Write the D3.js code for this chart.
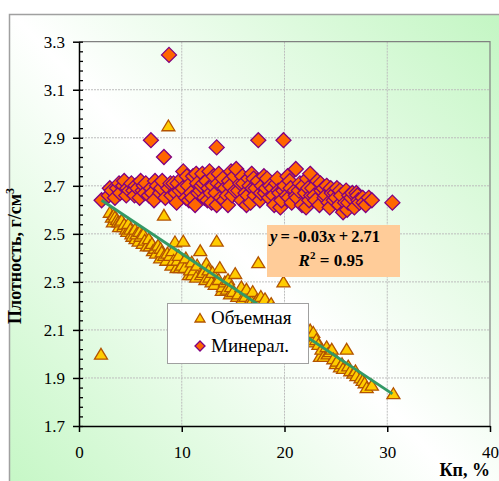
<!DOCTYPE html>
<html>
<head>
<meta charset="utf-8">
<script src="https://cdn.jsdelivr.net/npm/d3@7"></script>
<style>
  body { margin: 0; background: #fff; }
</style>
</head>
<body>
<svg id="chart" width="499" height="481"></svg>
<script>
// Объемная (triangles), [Кп, плотность]
var volPoints = [
  [2.14, 1.999], [3.0, 2.59], [3.2, 2.57], [3.3, 2.55], [3.4, 2.58], [3.5, 2.57], [3.7, 2.56], [3.8, 2.55],
  [3.9, 2.53], [4.0, 2.55], [4.15, 2.557], [4.3, 2.53], [4.4, 2.54], [4.6, 2.52], [4.7, 2.51], [4.8, 2.543],
  [5.0, 2.52], [5.1, 2.50], [5.2, 2.49], [5.45, 2.52], [5.5, 2.48], [5.6, 2.50], [5.8, 2.47], [5.9, 2.51],
  [6.0, 2.49], [6.2, 2.46], [6.26, 2.50], [6.4, 2.474], [6.6, 2.45], [6.8, 2.48], [6.9, 2.45], [7.1, 2.46],
  [7.2, 2.43], [7.4, 2.44], [7.5, 2.42], [7.7, 2.453], [7.9, 2.40], [7.95, 2.44], [8.05, 2.425], [8.27, 2.578],
  [8.3, 2.41], [8.5, 2.39], [8.6, 2.42], [8.7, 2.95], [8.86, 2.41], [9.0, 2.37], [9.1, 2.43], [9.2, 2.39],
  [9.34, 2.467], [9.5, 2.36], [9.6, 2.39], [9.7, 2.41], [9.83, 2.36], [10.0, 2.37], [10.15, 2.47], [10.3, 2.36],
  [10.4, 2.40], [10.7, 2.33], [10.8, 2.35], [10.97, 2.383], [11.0, 2.33], [11.2, 2.35], [11.4, 2.32], [11.5, 2.37],
  [11.8, 2.43], [11.9, 2.33], [12.1, 2.34], [12.3, 2.31], [12.4, 2.377], [12.6, 2.35], [12.7, 2.32], [12.9, 2.30],
  [13.0, 2.34], [13.2, 2.29], [13.4, 2.47], [13.6, 2.31], [13.7, 2.36], [13.9, 2.265], [14.0, 2.28], [14.2, 2.30],
  [14.4, 2.27], [14.5, 2.31], [14.7, 2.25], [14.8, 2.28], [15.0, 2.26], [15.2, 2.335], [15.4, 2.24], [15.5, 2.25],
  [15.8, 2.28], [15.9, 2.23], [16.2, 2.24], [16.3, 2.27], [16.6, 2.22], [16.8, 2.22], [16.9, 2.26], [17.1, 2.21],
  [17.3, 2.224], [17.45, 2.38], [17.7, 2.24], [18.1, 2.23], [18.3, 2.18], [18.5, 2.20], [18.7, 2.21], [18.9, 2.19],
  [19.1, 2.17], [19.3, 2.17], [19.6, 2.16], [19.9, 2.30], [20.1, 2.15], [20.3, 2.13], [20.5, 2.14], [20.7, 2.15],
  [20.9, 2.12], [21.1, 2.10], [21.3, 2.11], [21.5, 2.12], [21.7, 2.09], [22.1, 2.08], [22.3, 2.07], [22.5, 2.10],
  [22.7, 2.05], [22.8, 2.09], [23.1, 2.06], [23.3, 2.04], [23.45, 1.99], [23.6, 2.02], [23.8, 1.99], [24.1, 2.03],
  [24.2, 2.00], [24.4, 2.01], [24.6, 2.02], [24.75, 1.98], [25.0, 1.96], [25.1, 1.97], [25.4, 1.946], [25.6, 1.96],
  [25.7, 1.94], [26.05, 2.02], [26.2, 1.95], [26.4, 1.93], [26.7, 1.92], [26.9, 1.93], [27.0, 1.91], [27.4, 1.90],
  [27.6, 1.89], [27.8, 1.88], [28.0, 1.86], [28.5, 1.87], [30.6, 1.835]
];

// Минерал. (diamonds), [Кп, плотность]
var minPoints = [
  [2.2, 2.64], [2.9, 2.66], [3.0, 2.69], [3.2, 2.68], [3.5, 2.65], [3.7, 2.69], [3.9, 2.71], [4.0, 2.67],
  [4.3, 2.70], [4.4, 2.72], [4.6, 2.66], [4.7, 2.69], [4.9, 2.68], [5.1, 2.71], [5.3, 2.68], [5.4, 2.66],
  [5.5, 2.70], [5.7, 2.69], [5.9, 2.65], [6.0, 2.72], [6.2, 2.68], [6.3, 2.70], [6.4, 2.67], [6.5, 2.71],
  [6.8, 2.66], [7.0, 2.69], [7.1, 2.67], [7.3, 2.64], [7.4, 2.72], [7.6, 2.70], [7.9, 2.67], [8.0, 2.69],
  [8.1, 2.72], [8.4, 2.65], [8.7, 2.69], [8.9, 2.71], [9.0, 2.66], [9.2, 2.71], [9.4, 2.67], [9.5, 2.63],
  [9.6, 2.71], [9.8, 2.68], [10.0, 2.73], [10.1, 2.69], [10.15, 2.76], [10.4, 2.65], [10.5, 2.74], [10.6, 2.70],
  [10.7, 2.64], [10.9, 2.67], [11.0, 2.65], [11.1, 2.74], [11.3, 2.62], [11.4, 2.75], [11.5, 2.71], [11.6, 2.67],
  [11.8, 2.68], [11.9, 2.70], [12.0, 2.75], [12.1, 2.71], [12.2, 2.65], [12.4, 2.72], [12.5, 2.64], [12.6, 2.69],
  [12.7, 2.76], [12.8, 2.67], [12.9, 2.63], [13.0, 2.70], [13.1, 2.74], [13.3, 2.67], [13.4, 2.62], [13.5, 2.71],
  [13.6, 2.75], [13.8, 2.65], [13.9, 2.70], [14.0, 2.73], [14.1, 2.64], [14.2, 2.69], [14.4, 2.66], [14.5, 2.62],
  [14.6, 2.72], [14.7, 2.70], [14.8, 2.76], [14.9, 2.66], [15.1, 2.74], [15.2, 2.68], [15.3, 2.77], [15.5, 2.68],
  [15.7, 2.71], [15.8, 2.64], [15.9, 2.74], [16.0, 2.71], [16.2, 2.67], [16.3, 2.62], [16.4, 2.66], [16.5, 2.73],
  [16.6, 2.70], [16.7, 2.63], [16.8, 2.75], [16.9, 2.69], [17.0, 2.73], [17.1, 2.66], [17.2, 2.69], [17.4, 2.72],
  [17.6, 2.64], [17.7, 2.67], [17.8, 2.70], [18.0, 2.74], [18.1, 2.67], [18.2, 2.69], [18.3, 2.73], [18.5, 2.65],
  [18.6, 2.70], [18.8, 2.69], [18.9, 2.66], [19.0, 2.62], [19.2, 2.71], [19.3, 2.73], [19.4, 2.68], [19.5, 2.67],
  [19.6, 2.61], [19.7, 2.64], [19.9, 2.68], [20.0, 2.70], [20.2, 2.66], [20.3, 2.74], [20.4, 2.65], [20.5, 2.72],
  [20.6, 2.69], [20.7, 2.63], [21.0, 2.68], [21.1, 2.66], [21.2, 2.65], [21.4, 2.68], [21.5, 2.71], [21.7, 2.62],
  [21.8, 2.70], [22.0, 2.67], [22.1, 2.61], [22.2, 2.73], [22.3, 2.69], [22.4, 2.64], [22.5, 2.75], [22.6, 2.66],
  [22.7, 2.69], [22.9, 2.66], [23.0, 2.64], [23.2, 2.72], [23.4, 2.62], [23.5, 2.71], [23.6, 2.68], [23.8, 2.69],
  [23.9, 2.65], [24.0, 2.66], [24.1, 2.70], [24.3, 2.63], [24.4, 2.61], [24.5, 2.69], [24.6, 2.67], [24.8, 2.64],
  [24.9, 2.67], [25.0, 2.65], [25.1, 2.69], [25.3, 2.62], [25.4, 2.68], [25.5, 2.66], [25.7, 2.59], [25.9, 2.63],
  [26.0, 2.68], [26.1, 2.60], [26.2, 2.63], [26.3, 2.66], [26.5, 2.65], [26.6, 2.67], [26.8, 2.61], [27.0, 2.67],
  [27.1, 2.66], [27.2, 2.64], [27.3, 2.63], [27.6, 2.65], [27.7, 2.63], [27.9, 2.62], [28.2, 2.65], [28.5, 2.64],
  [30.5, 2.63], [8.76, 3.245], [7.0, 2.89], [8.27, 2.82], [13.4, 2.86], [17.45, 2.89], [19.9, 2.89], [21.1, 2.77]
];

// linear trend of Объемная
var trendSlope = -0.0285;
var trendIntercept = 2.703;
var trendRange = [2.2, 30.5];

var xTicks = [0, 10, 20, 30, 40];
var yTicks = [1.7, 1.9, 2.1, 2.3, 2.5, 2.7, 2.9, 3.1, 3.3];

var serif = "Liberation Serif";
var svg = d3.select("#chart");

// background gradient
var defs = svg.append("defs");
var grad = defs.append("linearGradient").attr("id", "bg")
  .attr("gradientUnits", "userSpaceOnUse")
  .attr("x1", 9).attr("y1", 481).attr("x2", 499).attr("y2", 14);
grad.append("stop").attr("offset", "0%").attr("stop-color", "#c6f7c6");
grad.append("stop").attr("offset", "48%").attr("stop-color", "#ffffff");
grad.append("stop").attr("offset", "100%").attr("stop-color", "#c3f6c3");

svg.append("rect").attr("x", 9.5).attr("y", 14.5).attr("width", 520).attr("height", 500)
  .attr("fill", "url(#bg)").attr("stroke", "#a0a0a0").attr("stroke-width", 1.5);

var plotL = 79, plotR = 490, plotT = 41.7, plotB = 426;
var x = d3.scaleLinear().domain([0, 40]).range([plotL, plotR]);
var y = d3.scaleLinear().domain([1.7, 3.3]).range([plotB, plotT]);

// grid
svg.append("g").selectAll("line").data(yTicks.slice(1, -1)).join("line")
  .attr("x1", plotL).attr("x2", plotR).attr("y1", d => y(d)).attr("y2", d => y(d))
  .attr("stroke", "#bdbdbd").attr("stroke-dasharray", "2,1");
svg.append("g").selectAll("line").data(xTicks.slice(1, -1)).join("line")
  .attr("y1", plotT).attr("y2", plotB).attr("x1", d => x(d)).attr("x2", d => x(d))
  .attr("stroke", "#bdbdbd").attr("stroke-dasharray", "2,1");

// top and right frame
svg.append("path").attr("d", `M${plotL},${plotT}H${plotR}V${plotB}`)
  .attr("fill", "none").attr("stroke", "#808080").attr("stroke-width", 1.2);

var triPath = "M0,-5.8L6.5,5L-6.5,5Z";
var diaPath = "M0,-7.5L7.5,0L0,7.5L-7.5,0Z";

svg.append("g").selectAll("path").data(volPoints).join("path")
  .attr("d", triPath)
  .attr("transform", d => `translate(${x(d[0])},${y(d[1])})`)
  .attr("fill", "#ffcc00").attr("stroke", "#b35400").attr("stroke-width", 1.3);

svg.append("g").selectAll("path").data(minPoints).join("path")
  .attr("d", diaPath)
  .attr("transform", d => `translate(${x(d[0])},${y(d[1])})`)
  .attr("fill", "#ff6600").attr("stroke", "#800080").attr("stroke-width", 1.3);

// trend line
svg.append("line")
  .attr("x1", x(trendRange[0])).attr("y1", y(trendIntercept + trendSlope * trendRange[0]))
  .attr("x2", x(trendRange[1])).attr("y2", y(trendIntercept + trendSlope * trendRange[1]))
  .attr("stroke", "#339966").attr("stroke-width", 3);

// axes
var yAxis = svg.append("g").attr("transform", `translate(${plotL},0)`)
  .call(d3.axisLeft(y).tickValues(yTicks).tickFormat(d3.format(".1f")).tickSize(6).tickSizeOuter(0));
svg.append("g").attr("transform", `translate(${plotL},0)`)
  .call(d3.axisRight(y).tickValues(d3.range(1.7, 3.31, 0.04)).tickFormat("").tickSize(4).tickSizeOuter(0))
  .call(g => g.select(".domain").remove())
  .selectAll("line").attr("stroke", "#000").attr("stroke-width", 1.3);
var xAxis = svg.append("g").attr("transform", `translate(0,${plotB})`)
  .call(d3.axisBottom(x).tickValues(xTicks).tickSize(6).tickSizeOuter(0));
[yAxis, xAxis].forEach(g => {
  g.attr("font-family", serif).attr("font-size", 17);
  g.selectAll("path, line").attr("stroke", "#000").attr("stroke-width", 1.5);
  g.selectAll("text").attr("fill", "#000");
});
yAxis.selectAll("text").attr("x", -14);
xAxis.selectAll("text").attr("y", 20);

// axis titles
svg.append("text").attr("transform", "translate(21,256) rotate(-90)")
  .attr("text-anchor", "middle").attr("font-family", serif).attr("font-size", 18).attr("font-weight", "bold")
  .html('Плотность, г/см<tspan dy="-7" font-size="12">3</tspan>');
svg.append("text").attr("x", 490).attr("y", 476).attr("text-anchor", "end")
  .attr("font-family", serif).attr("font-size", 18).attr("font-weight", "bold").text("Кп, %");

// equation label
svg.append("rect").attr("x", 267).attr("y", 225).attr("width", 133).attr("height", 52)
  .attr("fill", "#ffcc99");
svg.append("text").attr("x", 325).attr("y", 242).attr("text-anchor", "middle")
  .attr("font-family", serif).attr("font-size", 16.5).attr("font-weight", "bold").attr("word-spacing", -1)
  .html('<tspan font-style="italic">y</tspan> = -0.03<tspan font-style="italic">x</tspan> + 2.71');
svg.append("text").attr("x", 331).attr("y", 266).attr("text-anchor", "middle")
  .attr("font-family", serif).attr("font-size", 17).attr("font-weight", "bold")
  .html('<tspan font-style="italic">R</tspan><tspan dy="-7" font-size="11">2</tspan><tspan dy="7"> = 0.95</tspan>');

// legend
svg.append("rect").attr("x", 167.5).attr("y", 303.5).attr("width", 141).attr("height", 60)
  .attr("fill", "#fff").attr("stroke", "#a0a0a0");
svg.append("path").attr("d", "M0,-4.5L5,4L-5,4Z").attr("transform", "translate(200,318)")
  .attr("fill", "#ffcc00").attr("stroke", "#b35400").attr("stroke-width", 1.3);
svg.append("path").attr("d", "M0,-5L5,0L0,5L-5,0Z").attr("transform", "translate(200,346)")
  .attr("fill", "#ff6600").attr("stroke", "#800080").attr("stroke-width", 1.3);
svg.append("text").attr("x", 211).attr("y", 324).attr("font-family", serif).attr("font-size", 19).text("Объемная");
svg.append("text").attr("x", 211).attr("y", 352).attr("font-family", serif).attr("font-size", 19).text("Минерал.");
</script>
</body>
</html>
